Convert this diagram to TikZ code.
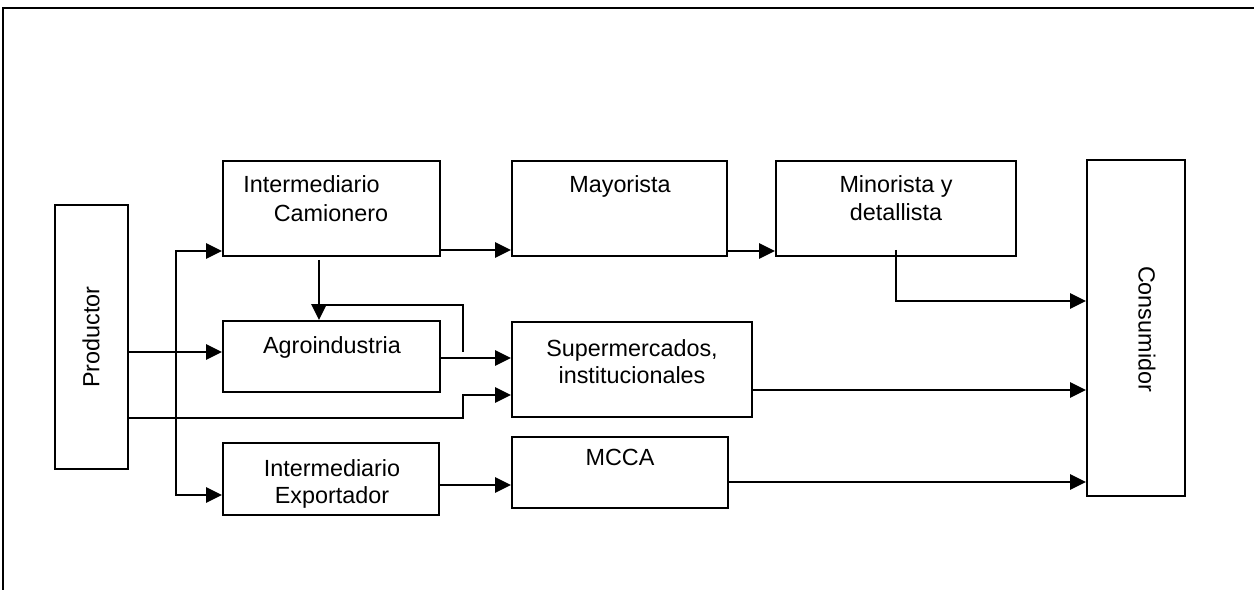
\documentclass[tikz,border=0pt]{standalone}
\usepackage{fontspec}
\setmainfont{Liberation Sans}
\usetikzlibrary{arrows.meta,fit}

\tikzset{
  box/.style={draw, line width=1.1pt, inner sep=0pt},
  lbl/.style={inner sep=0pt, anchor=base, font=\fontsize{13.3}{16}\selectfont},
  rlbl/.style={inner sep=0pt, font=\fontsize{13.3}{16}\selectfont},
  link/.style={line width=1.3pt},
  tip/.tip={Triangle[length=9pt,width=8.5pt]},
  arr/.style={link, -tip},
  frame/.style={line width=0.9pt}
}

\begin{document}
\begin{tikzpicture}[x=0.02cm, y=-0.02cm]
\useasboundingbox (0,0) rectangle (1254,590);

% outer frame (top and left edges)
\draw[frame] (3,590) -- (3,8) -- (1254,8);

% boxes
\node[box, fit={(55,205) (128,469)}]   (prod) {};
\node[box, fit={(223,161) (440,256)}]  (ic)   {};
\node[box, fit={(512,161) (727,256)}]  (may)  {};
\node[box, fit={(776,161) (1016,256)}] (min)  {};
\node[box, fit={(223,321) (440,392)}]  (agro) {};
\node[box, fit={(512,322) (752,417)}]  (sup)  {};
\node[box, fit={(223,443) (439,515)}]  (ie)   {};
\node[box, fit={(512,437) (728,508)}]  (mcca) {};
\node[box, fit={(1087,160) (1185,496)}] (cons) {};

% labels
\node[rlbl, rotate=90]  (prodtx) at (91,337)   {Productor};
\node[rlbl, rotate=-90] (constx) at (1147,329) {Consumidor};
\node[lbl, anchor=base west] (ictxa) at (243,193) {Intermediario};
\node[lbl] (ictxb) at (331,222) {Camionero};
\node[lbl] (maytx) at (620,193) {Mayorista};
\node[lbl] (mintxa) at (896,193) {Minorista y};
\node[lbl] (mintxb) at (896,221) {detallista};
\node[lbl] (agrotx) at (332,354) {Agroindustria};
\node[lbl] (suptxa) at (632,357) {Supermercados,};
\node[lbl] (suptxb) at (632,384) {institucionales};
\node[lbl] (ietxa) at (332,477) {Intermediario};
\node[lbl] (ietxb) at (332,504) {Exportador};
\node[lbl] (mccatx) at (620,466) {MCCA};

% junction points
\coordinate (ta) at (176,251);
\coordinate (tb) at (176,495);
\coordinate (pa) at (128,352);
\coordinate (pb) at (128,418);
\coordinate (ka) at (463,395);
\coordinate (ca) at (319,260);
\coordinate (fa) at (463,352);
\coordinate (fb) at (463,305);
\coordinate (fc) at (319,305);
\coordinate (ma) at (896,250);
\coordinate (mb) at (896,301);

% producer distribution
\draw[link, tip-tip] (ta -| ic.west) -- (ta) -- (tb) -- (tb -| ie.west);
\draw[arr] (pa) -- (pa -| agro.west);
\draw[arr] (pb) -| (ka) -- (ka -| sup.west);

% camionero to agroindustria, with the return line
\draw[arr] (ca) -- (ca |- agro.north);
\draw[link] (fa) -- (fb) -- (fc);
\draw[arr] (agro.east |- 0,358) -- (sup.west |- 0,358);

% upper chain
\draw[arr] (ic.east |- 0,250) -- (may.west |- 0,250);
\draw[arr] (may.east |- 0,251) -- (min.west |- 0,251);
\draw[arr] (ma) -- (mb) -- (mb -| cons.west);

% to the consumer
\draw[arr] (sup.east |- 0,390) -- (cons.west |- 0,390);
\draw[arr] (ie.east |- 0,485) -- (mcca.west |- 0,485);
\draw[arr] (mcca.east |- 0,482) -- (cons.west |- 0,482);
\end{tikzpicture}
\end{document}
